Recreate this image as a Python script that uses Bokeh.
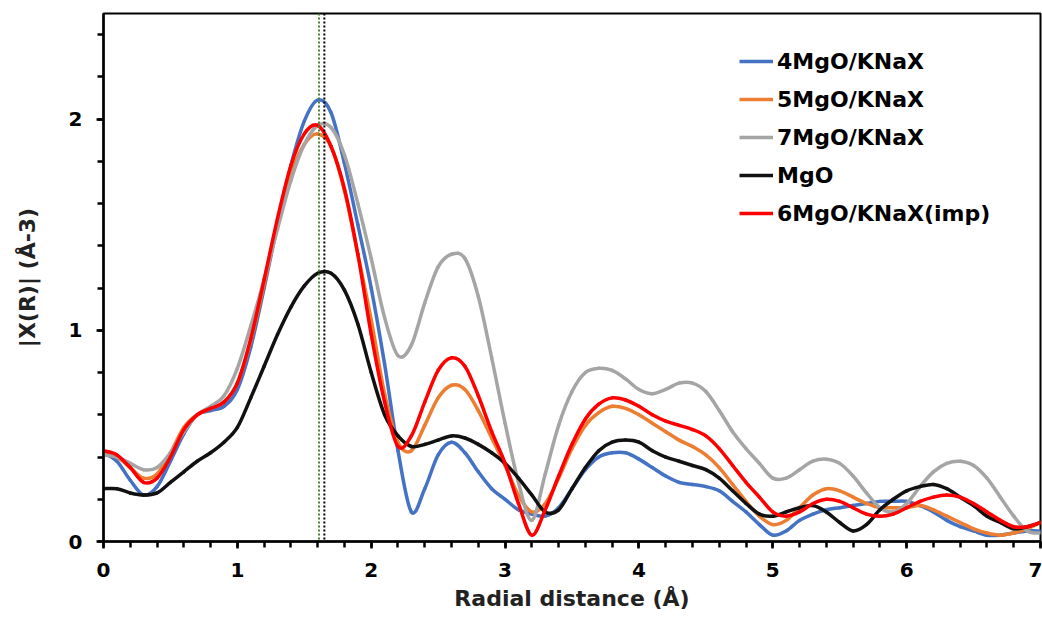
from bokeh.plotting import figure
from bokeh.models import Span, SingleIntervalTicker, Legend, LegendItem, Range1d
from bokeh.embed import file_html
from bokeh.resources import INLINE
import numpy as np

# Radial distance grid (Å)
r = np.round(np.arange(0, 7.001, 0.1), 1).tolist()

mgo4 = [0.42, 0.38, 0.29, 0.22, 0.26, 0.38, 0.51, 0.60, 0.62, 0.64,
        0.72, 0.92, 1.20, 1.50, 1.78, 1.99, 2.09, 2.03, 1.79, 1.50,
        1.20, 0.84, 0.43, 0.14, 0.25, 0.41, 0.47, 0.42, 0.33, 0.25,
        0.20, 0.15, 0.13, 0.12, 0.16, 0.25, 0.34, 0.40, 0.42, 0.42,
        0.39, 0.35, 0.31, 0.28, 0.27, 0.26, 0.24, 0.19, 0.14, 0.08,
        0.03, 0.05, 0.10, 0.13, 0.15, 0.16, 0.17, 0.18, 0.19, 0.19,
        0.19, 0.17, 0.14, 0.10, 0.07, 0.05, 0.03, 0.03, 0.04, 0.05,
        0.05]

mgo5 = [0.42, 0.40, 0.35, 0.30, 0.32, 0.42, 0.54, 0.60, 0.63, 0.66,
        0.75, 0.95, 1.22, 1.50, 1.74, 1.88, 1.93, 1.87, 1.66, 1.36,
        1.05, 0.70, 0.47, 0.43, 0.55, 0.68, 0.74, 0.72, 0.62, 0.49,
        0.36, 0.22, 0.14, 0.18, 0.30, 0.44, 0.55, 0.61, 0.64, 0.63,
        0.60, 0.56, 0.52, 0.48, 0.45, 0.41, 0.35, 0.27, 0.19, 0.12,
        0.08, 0.10, 0.16, 0.22, 0.25, 0.24, 0.21, 0.18, 0.16, 0.16,
        0.16, 0.17, 0.15, 0.12, 0.09, 0.06, 0.04, 0.03, 0.04, 0.06,
        0.09]

mgo7 = [0.41, 0.40, 0.37, 0.34, 0.35, 0.42, 0.52, 0.60, 0.64, 0.69,
        0.82, 1.02, 1.24, 1.48, 1.71, 1.88, 1.97, 1.96, 1.83, 1.60,
        1.34, 1.06, 0.88, 0.93, 1.13, 1.30, 1.36, 1.34, 1.16, 0.87,
        0.56, 0.28, 0.10, 0.32, 0.55, 0.71, 0.80, 0.82, 0.81, 0.77,
        0.72, 0.70, 0.72, 0.75, 0.75, 0.71, 0.62, 0.52, 0.44, 0.37,
        0.30, 0.30, 0.34, 0.38, 0.39, 0.37, 0.31, 0.23, 0.16, 0.14,
        0.18, 0.26, 0.33, 0.37, 0.38, 0.36, 0.30, 0.21, 0.12, 0.05,
        0.04]

mgo = [0.25, 0.25, 0.23, 0.22, 0.23, 0.28, 0.33, 0.38, 0.42, 0.47,
       0.54, 0.68, 0.83, 0.98, 1.11, 1.21, 1.27, 1.27, 1.19, 1.03,
       0.80, 0.60, 0.50, 0.45, 0.46, 0.48, 0.50, 0.49, 0.46, 0.42,
       0.37, 0.30, 0.22, 0.14, 0.15, 0.25, 0.35, 0.43, 0.47, 0.48,
       0.47, 0.43, 0.40, 0.38, 0.36, 0.34, 0.30, 0.24, 0.18, 0.13,
       0.12, 0.14, 0.16, 0.17, 0.14, 0.09, 0.05, 0.08, 0.15, 0.20,
       0.24, 0.26, 0.27, 0.25, 0.21, 0.17, 0.12, 0.09, 0.06, 0.07,
       0.09]

mgo6_imp = [0.43, 0.41, 0.35, 0.28, 0.30, 0.40, 0.53, 0.60, 0.63, 0.66,
            0.75, 0.96, 1.24, 1.53, 1.78, 1.93, 1.97, 1.87, 1.67, 1.36,
            0.98, 0.66, 0.45, 0.50, 0.66, 0.81, 0.87, 0.83, 0.69, 0.52,
            0.37, 0.18, 0.03, 0.15, 0.31, 0.46, 0.58, 0.65, 0.68, 0.67,
            0.64, 0.60, 0.57, 0.55, 0.53, 0.50, 0.44, 0.36, 0.28, 0.21,
            0.14, 0.12, 0.14, 0.18, 0.20, 0.19, 0.16, 0.13, 0.12, 0.13,
            0.16, 0.19, 0.21, 0.22, 0.21, 0.18, 0.14, 0.10, 0.07, 0.07,
            0.09]

series_names = ["4MgO/KNaX", "5MgO/KNaX", "7MgO/KNaX", "MgO", "6MgO/KNaX(imp)"]
series_values = [mgo4, mgo5, mgo7, mgo, mgo6_imp]
series_colors = ["#4472C4", "#ED7D31", "#A5A5A5", "#111111", "#FF0000"]

peak_lines = [1.61, 1.65]
peak_colors = ["#4f7f2a", "#000000"]

x_ticks_interval = 1
y_ticks_interval = 1

FONT = "DejaVu Sans"


def smooth_segments(xs, ys):
    """Excel-style smoothed line: Catmull-Rom segments as cubic Beziers."""
    x = np.asarray(xs, float)
    y = np.asarray(ys, float)
    xp = np.concatenate([[x[0]], x, [x[-1]]])
    yp = np.concatenate([[y[0]], y, [y[-1]]])
    x0, y0 = x[:-1], y[:-1]
    x1, y1 = x[1:], y[1:]
    cx0 = x0 + (xp[2:-1] - xp[:-3]) / 6.0
    cy0 = y0 + (yp[2:-1] - yp[:-3]) / 6.0
    cx1 = x1 - (xp[3:] - xp[1:-2]) / 6.0
    cy1 = y1 - (yp[3:] - yp[1:-2]) / 6.0
    return dict(x0=x0, y0=y0, x1=x1, y1=y1, cx0=cx0, cy0=cy0, cx1=cx1, cy1=cy1)


p = figure(width=1042, height=619, output_backend="svg", toolbar_location=None,
           x_range=Range1d(0, 7), y_range=Range1d(0, 2.5),
           min_border_left=103, min_border_right=2, min_border_top=13,
           min_border_bottom=78)
p.background_fill_color = "white"
p.border_fill_color = "white"
p.outline_line_color = "black"
p.outline_line_width = 2
p.xgrid.visible = False
p.ygrid.visible = False

items = []
for name, vals, col in zip(series_names, series_values, series_colors):
    seg = smooth_segments(r, vals)
    p.bezier(x0=seg["x0"], y0=seg["y0"], x1=seg["x1"], y1=seg["y1"],
             cx0=seg["cx0"], cy0=seg["cy0"], cx1=seg["cx1"], cy1=seg["cy1"],
             line_color=col, line_width=3.5, line_cap="round")
    key = p.line([np.nan], [np.nan], line_color=col, line_width=3.5)
    items.append(LegendItem(label=name, renderers=[key]))

for xv, col in zip(peak_lines, peak_colors):
    p.add_layout(Span(location=xv, dimension="height", line_color=col,
                      line_width=2, line_dash="2 2"))

legend = Legend(items=items, location=(636, 313), padding=0, margin=0,
                border_line_color=None, background_fill_alpha=0,
                glyph_width=34, glyph_height=30, label_height=30, spacing=8,
                label_standoff=4, label_text_font=FONT,
                label_text_font_style="bold", label_text_font_size="22px",
                label_text_color="black")
p.add_layout(legend, "center")

for ax in (p.xaxis[0], p.yaxis[0]):
    ax.axis_line_width = 2.5
    ax.axis_line_color = "black"
    ax.major_tick_line_width = 2.5
    ax.minor_tick_line_width = 2.5
    ax.major_tick_line_color = "black"
    ax.minor_tick_line_color = "black"
    ax.major_tick_in = 0
    ax.minor_tick_in = 0
    ax.major_tick_out = 7
    ax.minor_tick_out = 6
    ax.major_label_text_font = FONT
    ax.major_label_text_font_style = "bold"
    ax.major_label_text_font_size = "20px"
    ax.major_label_text_color = "black"
    ax.axis_label_text_font = FONT
    ax.axis_label_text_font_style = "bold"
    ax.axis_label_text_font_size = "22px"
    ax.axis_label_text_color = "#222222"

p.xaxis[0].ticker = SingleIntervalTicker(interval=x_ticks_interval, num_minor_ticks=5)
p.yaxis[0].ticker = SingleIntervalTicker(interval=y_ticks_interval, num_minor_ticks=5)
p.xaxis[0].axis_label = "Radial distance (Å)"
p.yaxis[0].axis_label = "|X(R)| (Å-3)"
p.xaxis[0].major_label_standoff = 14
p.yaxis[0].major_label_standoff = 14
p.xaxis[0].axis_label_standoff = 6
p.yaxis[0].axis_label_standoff = 26

open("out.html", "w").write(file_html(p, INLINE))
